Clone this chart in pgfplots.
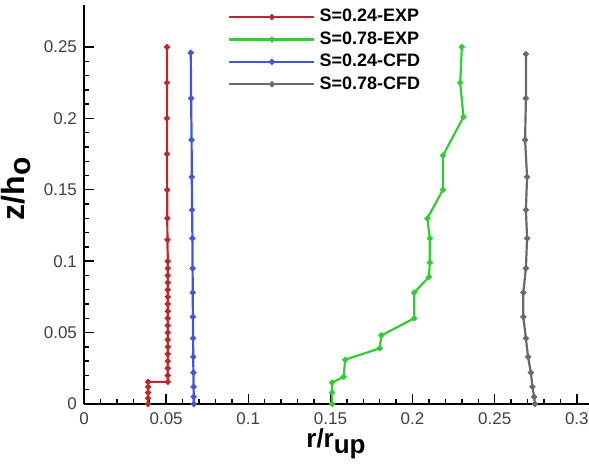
\documentclass[border=0pt]{standalone}
\usepackage{fontspec}
\setmainfont{Liberation Sans}
\usepackage{pgfplots}
\pgfplotsset{compat=1.18}
\definecolor{expred}{RGB}{190,40,45}
\definecolor{expgreen}{RGB}{50,205,50}
\definecolor{cfdblue}{RGB}{65,85,225}
\definecolor{cfdgray}{RGB}{105,105,105}
\begin{document}
\begin{tikzpicture}
\begin{axis}[
    scale only axis,
    width=252.5pt, height=199.5pt,
    xmin=0, xmax=0.3074,
    ymin=0, ymax=0.2794,
    axis lines=left,
    axis line style={-, line width=1.3pt, black},
    tick align=inside,
    major tick length=5pt,
    minor tick length=2.5pt,
    every tick/.style={black, line width=0.7pt},
    xtick={0,0.05,0.1,0.15,0.2,0.25,0.3},
    ytick={0,0.05,0.1,0.15,0.2,0.25},
    xticklabels={0,0.05,0.1,0.15,0.2,0.25,0.3},
    yticklabels={0,0.05,0.1,0.15,0.2,0.25},
    minor x tick num=4,
    minor y tick num=4,
    tick label style={font=\fontsize{8.5}{9}\selectfont, color=black!75},
    xticklabel style={yshift=-1pt},
    xlabel={\textbf{r/r}$_{\textbf{\fontsize{13}{14}\selectfont up}}$},
    ylabel={\textbf{z/h}$_{\textbf{\fontsize{15}{16}\selectfont o}}$},
    xlabel style={font=\fontsize{13}{14}\selectfont, at={(axis description cs:0.5,-0.11)}, anchor=base},
    ylabel style={font=\fontsize{16}{17}\selectfont, at={(axis description cs:-0.117,0.54)}, anchor=base},
    legend style={draw=none, fill=none, at={(axis description cs:0.285,1.0)}, anchor=north west,
        font=\fontsize{9}{10.8}\selectfont\bfseries, inner sep=0pt,
        row sep=-0.6pt, /tikz/every even column/.append style={column sep=8pt}},
    legend cell align=left,
    legend image code/.code={\draw[mark repeat=2,mark phase=2,#1] plot coordinates {(0pt,0pt) (21.25pt,0pt) (42.5pt,0pt)};},
    every axis plot/.append style={line width=1.1pt, mark=*, mark size=0.9pt},
]
\addplot[expred, mark options={fill=expred}] coordinates {
(0.039,0) (0.039,0.004) (0.039,0.008) (0.039,0.012) (0.039,0.0155)
(0.051,0.0155) (0.051,0.02) (0.051,0.025) (0.051,0.03) (0.051,0.035)
(0.051,0.04) (0.051,0.045) (0.051,0.05) (0.051,0.055) (0.051,0.06)
(0.051,0.065) (0.051,0.07) (0.051,0.075) (0.051,0.08) (0.051,0.085)
(0.051,0.09) (0.051,0.095) (0.051,0.1) (0.0508,0.115) (0.0507,0.13)
(0.0506,0.15) (0.0505,0.175) (0.0505,0.2) (0.0505,0.225) (0.0505,0.25)
};
\addplot[expgreen, mark options={fill=expgreen}] coordinates {
(0.151,0) (0.151,0.008) (0.151,0.015) (0.158,0.019) (0.159,0.031)
(0.180,0.039) (0.181,0.048) (0.201,0.060) (0.201,0.078) (0.210,0.089)
(0.2105,0.099) (0.2105,0.116) (0.209,0.130) (0.2185,0.150) (0.2185,0.174)
(0.231,0.201) (0.229,0.225) (0.230,0.250)
};
\addplot[cfdblue, mark options={fill=cfdblue}] coordinates {
(0.0668,0) (0.0668,0.005) (0.0667,0.012) (0.0666,0.022) (0.0665,0.033)
(0.0664,0.046) (0.0663,0.061) (0.0662,0.078) (0.0661,0.095) (0.0660,0.116)
(0.0658,0.136) (0.0656,0.159) (0.0655,0.185) (0.0652,0.214) (0.0650,0.246)
};
\addplot[cfdgray, mark options={fill=cfdgray}] coordinates {
(0.2745,0) (0.274,0.005) (0.273,0.012) (0.272,0.022) (0.2703,0.033)
(0.269,0.046) (0.2674,0.061) (0.2674,0.078) (0.269,0.095) (0.2697,0.116)
(0.269,0.136) (0.2697,0.159) (0.2685,0.185) (0.269,0.214) (0.269,0.245)
};
\legend{S=0.24-EXP, S=0.78-EXP, S=0.24-CFD, S=0.78-CFD}
\end{axis}
\pgfresetboundingbox
\path[use as bounding box] (-42pt,-31pt) rectangle (252.5pt,202pt);
\end{tikzpicture}
\end{document}
